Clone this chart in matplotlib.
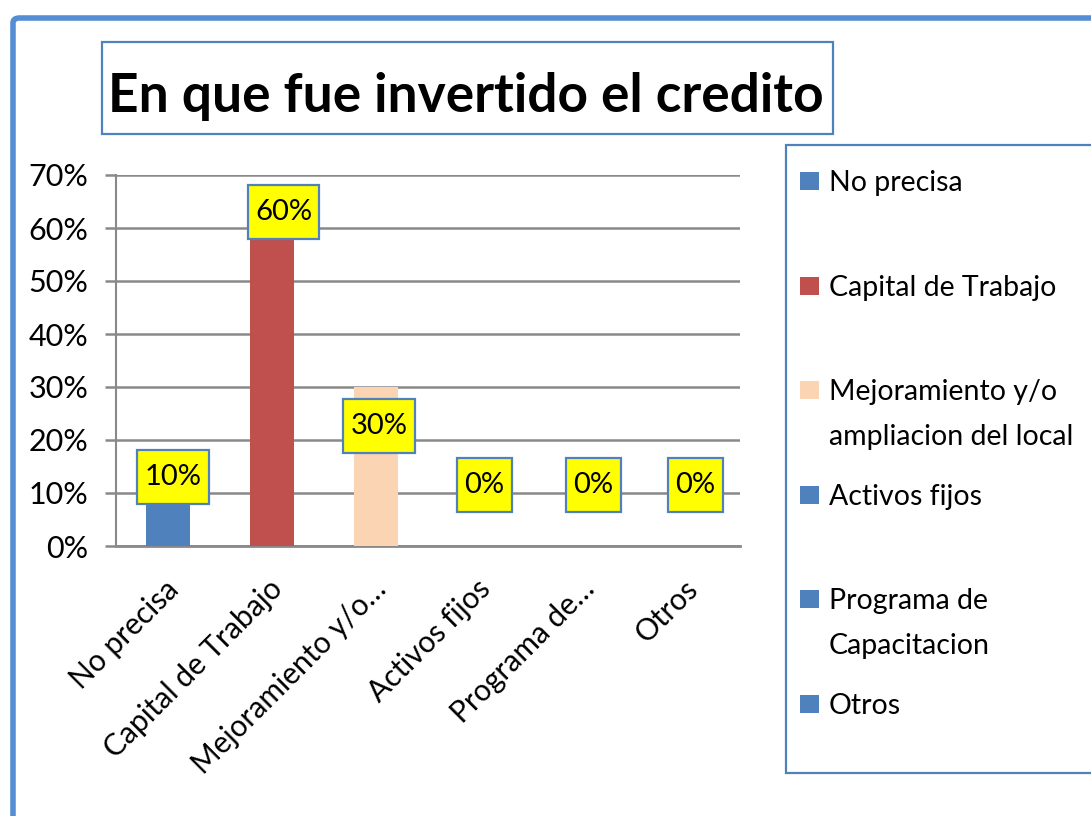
import matplotlib
matplotlib.use("Agg")
import matplotlib.pyplot as plt
from matplotlib.patches import Rectangle, FancyBboxPatch
from matplotlib.path import Path
from matplotlib.transforms import ScaledTranslation

# ---------------- data ----------------
title = "En que fue invertido el credito"
categories = ["No precisa", "Capital de Trabajo", "Mejoramiento y/o ampliacion del local",
              "Activos fijos", "Programa de Capacitacion", "Otros"]
tick_labels = ["No precisa", "Capital de Trabajo", "Mejoramiento y/o…",
               "Activos fijos", "Programa de…", "Otros"]
legend_labels = ["No precisa", "Capital de Trabajo", "Mejoramiento y/o\nampliacion del local",
                 "Activos fijos", "Programa de\nCapacitacion", "Otros"]
values = [0.10, 0.60, 0.30, 0.00, 0.00, 0.00]
value_labels = ["10%", "60%", "30%", "0%", "0%", "0%"]
yticks = [0.0, 0.1, 0.2, 0.3, 0.4, 0.5, 0.6, 0.7]
ytick_labels = ["0%", "10%", "20%", "30%", "40%", "50%", "60%", "70%"]
colors = ["#4F81BD", "#C0504D", "#FBD4B4", "#4F81BD", "#4F81BD", "#4F81BD"]

# ---------------- style ----------------
plt.rcParams['font.family'] = ['Lato', 'DejaVu Sans']
W, H = 1091, 816
BLUE = "#4F81BD"
GRID = "#898989"
label_dx = [0.05, 0.11, 0.03, 0.04, 0.09, 0.07]
label_dy = [0.031, 0.031, -0.0745, 0.115, 0.115, 0.115]


def fx(x):
    return x / W


def fy(y):
    return 1 - y / H


def label_box(x0, y0, width, height, mutation_size):
    px = 0.25 * mutation_size
    py = 0.48 * mutation_size
    x0 -= px
    y0 -= py
    x1 = x0 + width + 2 * px
    y1 = y0 + height + 2 * py
    return Path([(x0, y0), (x1, y0), (x1, y1), (x0, y1), (x0, y0)], closed=True)


fig = plt.figure(figsize=(W / 100, H / 100), dpi=100)
fig.patch.set_facecolor("white")

# outer frame
frame = FancyBboxPatch((fx(13), fy(900)), fx(1200), fy(18) - fy(900),
                       boxstyle="round,pad=0,rounding_size=0.006",
                       transform=fig.transFigure, facecolor="none",
                       edgecolor="#558ED5", linewidth=4, clip_on=False)
fig.patches.append(frame)

# title box
fig.patches.append(Rectangle((fx(102), fy(134)), fx(833) - fx(102), fy(42) - fy(134),
                             transform=fig.transFigure, facecolor="white",
                             edgecolor=BLUE, linewidth=1.6))
fig.text(fx(466), fy(112), title, ha="center", va="baseline",
         fontsize=38.3, fontweight="bold", color="black")

# axes
ax = fig.add_axes([fx(116), fy(546), fx(740) - fx(116), fy(175) - fy(546)])
x = list(range(len(categories)))
ax.bar(x, values, width=0.42, color=colors, zorder=3)
ax.set_xlim(-0.5, len(categories) - 0.5)
ax.set_ylim(0, 0.7)
ax.set_yticks(yticks)
ax.set_yticklabels(ytick_labels)
ax.set_xticks(x)
ax.set_xticklabels(tick_labels, rotation=45, ha="right", rotation_mode="anchor")
ax.yaxis.grid(True, color=GRID, linewidth=1.8, zorder=0)
ax.set_axisbelow(True)
for s in ["top", "right"]:
    ax.spines[s].set_visible(False)
ax.spines["left"].set_color(GRID)
ax.spines["left"].set_linewidth(1.5)
ax.spines["bottom"].set_color(GRID)
ax.spines["bottom"].set_linewidth(2.0)
ax.tick_params(axis="y", length=8, width=1.8, color=GRID, pad=12, labelsize=22)
ax.tick_params(axis="x", length=0, pad=12, labelsize=21.5)
shift = ScaledTranslation(-4 / 100, -12 / 100, fig.dpi_scale_trans)
for lbl in ax.get_xticklabels():
    lbl.set_transform(lbl.get_transform() + shift)

for i, (v, lab) in enumerate(zip(values, value_labels)):
    ax.text(i + label_dx[i], v + label_dy[i], lab, ha="center", va="center",
            fontsize=21, zorder=5,
            bbox=dict(boxstyle=label_box, facecolor="#FFFF00",
                      edgecolor=BLUE, linewidth=1.6))

# legend box
fig.patches.append(Rectangle((fx(786), fy(773)), fx(1200) - fx(786), fy(145) - fy(773),
                             transform=fig.transFigure, facecolor="white",
                             edgecolor=BLUE, linewidth=1.6, clip_on=False))
for i, (lab, c) in enumerate(zip(legend_labels, colors)):
    yc = 181 + 104.6 * i
    fig.patches.append(Rectangle((fx(800), fy(yc + 9)), fx(19), fy(yc - 9) - fy(yc + 9),
                                 transform=fig.transFigure, facecolor=c, edgecolor="none"))
    for j, line in enumerate(lab.split("\n")):
        fig.text(fx(829), fy(yc + 10 + 45 * j), line, ha="left", va="baseline",
                 fontsize=20.5, color="black")

fig.savefig("out.png", dpi=100)
